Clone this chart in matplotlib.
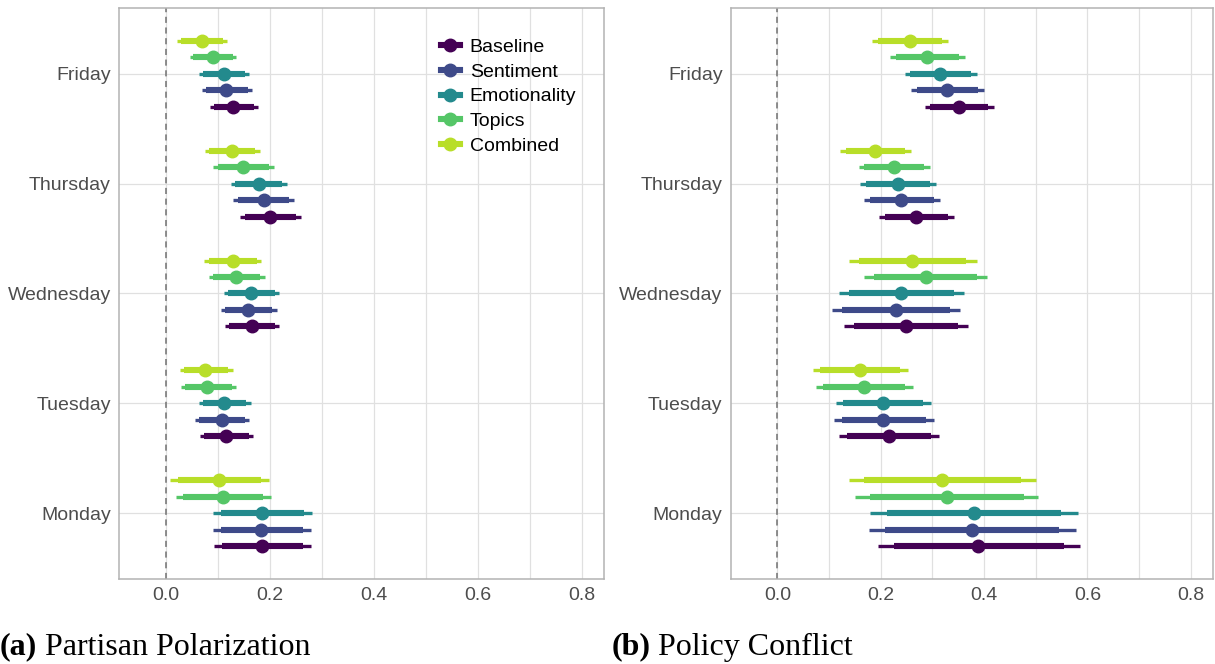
import numpy as np
import matplotlib.pyplot as plt
from matplotlib.lines import Line2D
from matplotlib.ticker import MultipleLocator

days = ["Monday", "Tuesday", "Wednesday", "Thursday", "Friday"]
models = ["Baseline", "Sentiment", "Emotionality", "Topics", "Combined"]
colors = ["#440154", "#3E4A89", "#238A8D", "#55C667", "#B8DE29"]

# Partisan polarization: estimate and 95% bounds, rows = models, cols = days (Mon..Fri)
pp_est = [[0.186, 0.116, 0.165, 0.200, 0.130],
          [0.184, 0.108, 0.159, 0.188, 0.116],
          [0.186, 0.112, 0.163, 0.179, 0.112],
          [0.110, 0.080, 0.135, 0.149, 0.090],
          [0.102, 0.076, 0.129, 0.127, 0.069]]
pp_lo = [[0.093, 0.066, 0.114, 0.143, 0.085],
         [0.091, 0.056, 0.106, 0.129, 0.069],
         [0.091, 0.064, 0.111, 0.125, 0.064],
         [0.019, 0.029, 0.083, 0.091, 0.046],
         [0.008, 0.027, 0.074, 0.075, 0.022]]
pp_hi = [[0.280, 0.168, 0.218, 0.260, 0.178],
         [0.280, 0.161, 0.213, 0.247, 0.166],
         [0.282, 0.163, 0.218, 0.233, 0.160],
         [0.202, 0.136, 0.191, 0.208, 0.136],
         [0.199, 0.129, 0.184, 0.181, 0.117]]

# Policy conflict
pc_est = [[0.389, 0.216, 0.248, 0.268, 0.351],
          [0.377, 0.205, 0.229, 0.240, 0.328],
          [0.380, 0.204, 0.240, 0.233, 0.315],
          [0.328, 0.167, 0.287, 0.225, 0.290],
          [0.319, 0.160, 0.261, 0.189, 0.257]]
pc_lo = [[0.194, 0.120, 0.129, 0.196, 0.285],
         [0.177, 0.109, 0.106, 0.167, 0.259],
         [0.180, 0.113, 0.120, 0.160, 0.246],
         [0.151, 0.074, 0.168, 0.157, 0.218],
         [0.139, 0.068, 0.139, 0.122, 0.183]]
pc_hi = [[0.586, 0.312, 0.368, 0.342, 0.419],
         [0.578, 0.304, 0.354, 0.315, 0.399],
         [0.582, 0.297, 0.361, 0.307, 0.387],
         [0.505, 0.262, 0.406, 0.296, 0.363],
         [0.500, 0.253, 0.386, 0.259, 0.331]]

# ratio of 90% to 95% normal quantiles for the thick inner band
inner = 1.645 / 1.96
offsets = [-0.3, -0.15, 0.0, 0.15, 0.3]

plt.rcParams['font.family'] = ['Liberation Sans', 'DejaVu Sans']

fig = plt.figure(figsize=(12.15, 6.64), dpi=100)
ax1 = fig.add_axes([0.098, 0.128, 0.399, 0.860])
ax2 = fig.add_axes([0.6016, 0.128, 0.3967, 0.860])


def draw_panel(ax, est, lo, hi):
    y0 = np.arange(len(days))
    for m in range(len(models)):
        e = np.array(est[m])
        l = np.array(lo[m])
        h = np.array(hi[m])
        y = y0 + offsets[m]
        il = e - inner * (e - l)
        ih = e + inner * (h - e)
        ax.hlines(y, l, h, color=colors[m], lw=2.4, zorder=3)
        ax.hlines(y, il, ih, color=colors[m], lw=4.4, zorder=4)
        ax.plot(e, y, 'o', color=colors[m], ms=9, zorder=5)
    ax.axvline(0, color='#707070', ls=(0, (4, 3)), lw=1.1, zorder=2)
    ax.set_xlim(-0.09, 0.843)
    ax.set_ylim(-0.6, 4.6)
    ax.set_yticks(y0)
    ax.set_yticklabels(days)
    ax.set_xticks([0.0, 0.2, 0.4, 0.6, 0.8])
    ax.xaxis.set_minor_locator(MultipleLocator(0.1))
    ax.grid(True, which='both', axis='x', color='#E0E0E0', lw=0.9, zorder=0)
    ax.grid(True, which='major', axis='y', color='#E0E0E0', lw=0.9, zorder=0)
    ax.set_axisbelow(True)
    ax.tick_params(which='both', length=0, labelsize=14, labelcolor='#4D4D4D', pad=6)
    for s in ax.spines.values():
        s.set_color('#B3B3B3')
        s.set_linewidth(1.1)


draw_panel(ax1, pp_est, pp_lo, pp_hi)
draw_panel(ax2, pc_est, pc_lo, pc_hi)

handles = [Line2D([0], [0], color=c, lw=4.4, marker='o', ms=9) for c in colors]
ax1.legend(handles, models, loc='upper left', bbox_to_anchor=(0.627, 0.977),
           frameon=False, fontsize=14, handlelength=1.0, handletextpad=0.5,
           labelspacing=0.36)

# sub-figure captions: bold letter followed by plain title
serif = ['Liberation Serif', 'DejaVu Serif']
fig.canvas.draw()
renderer = fig.canvas.get_renderer()
for x0, tag, title in [(0.0, '(a)', 'Partisan Polarization'),
                       (0.503, '(b)', 'Policy Conflict')]:
    t = fig.text(x0, 0.014, tag, family=serif, weight='bold', fontsize=23, va='baseline')
    bb = t.get_window_extent(renderer).transformed(fig.transFigure.inverted())
    fig.text(bb.x1, 0.014, ' ' + title, family=serif, fontsize=23, va='baseline')

fig.savefig('out.png', dpi=100)
